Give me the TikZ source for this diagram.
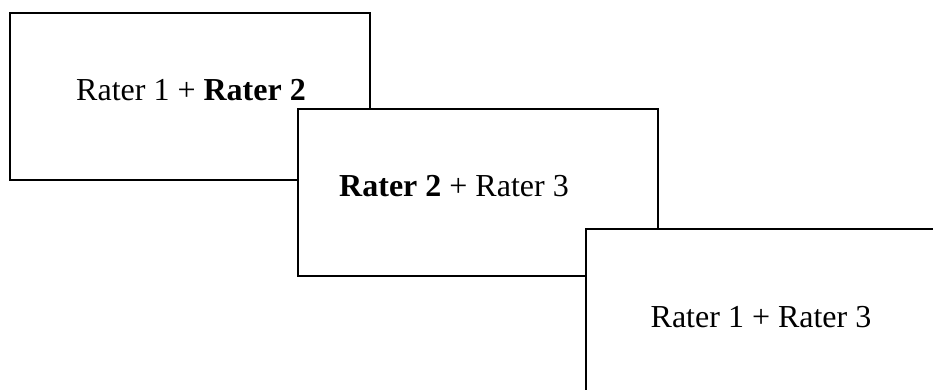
\documentclass[tikz,border=0pt]{standalone}
\usepackage{fontspec}
\setmainfont{Liberation Serif}
\begin{document}
\begin{tikzpicture}[x=1pt,y=-1pt,
  card/.style={draw=black, fill=white, line width=1.6pt, rectangle,
    inner sep=0pt, anchor=north west, minimum width=360pt, minimum height=167pt},
  caption/.style={anchor=base, inner sep=0pt, font=\fontsize{32}{38}\selectfont}]
  \clip (0,0) rectangle (933,389);
  \fill[white] (0,0) rectangle (933,389);
  % three overlapping cards, each later one on top
  \node[card] (c1) at (9,12) {};
  \node[card] (c2) at (297,108) {};
  \node[card, minimum width=420pt, minimum height=220pt] (c3) at (585,228) {};
  % pair labels
  \node[caption] (t1) at (191,100) {Rater 1 + \textbf{Rater 2}};
  \node[caption] (t2) at (454,196) {\textbf{Rater 2} + Rater 3};
  \node[caption] (t3) at (761,327) {Rater 1 + Rater 3};
\end{tikzpicture}
\end{document}
